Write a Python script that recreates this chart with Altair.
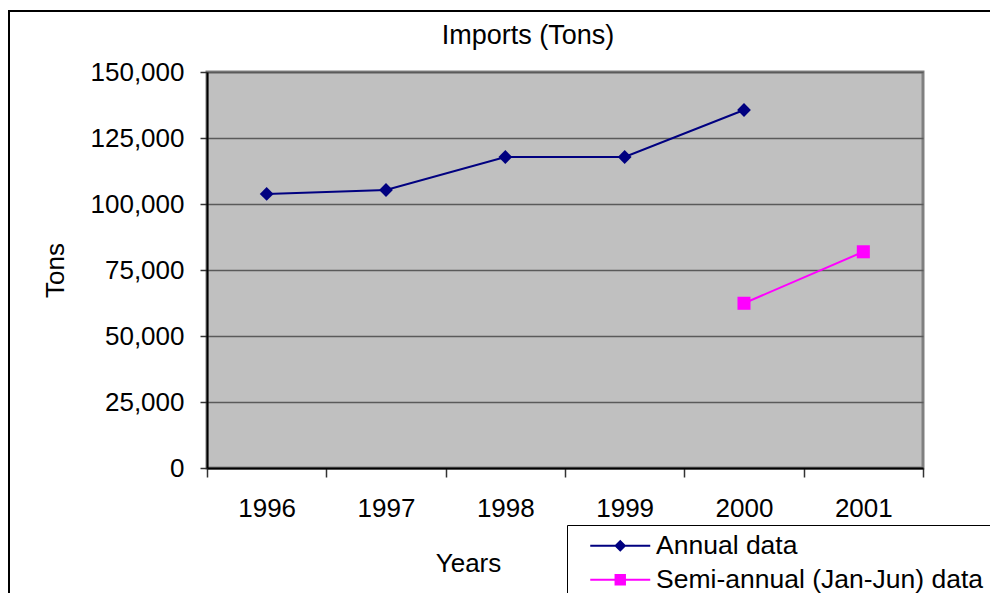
import altair as alt
import pandas as pd

years = ["1996", "1997", "1998", "1999", "2000", "2001"]
annual_years = ["1996", "1997", "1998", "1999", "2000"]
annual_values = [103800, 105300, 117800, 117800, 135600]
semi_years = ["2000", "2001"]
semi_values = [62400, 81900]
series_names = ["Annual data", "Semi-annual (Jan-Jun) data"]
series_colors = ["#000080", "#FF00FF"]
series_shapes = ["diamond", "square"]
series_sizes = [190, 170]
y_ticks = [0, 25000, 50000, 75000, 100000, 125000, 150000]

rows = [{"year": y, "value": v, "series": series_names[0]} for y, v in zip(annual_years, annual_values)]
rows += [{"year": y, "value": v, "series": series_names[1]} for y, v in zip(semi_years, semi_values)]
df = pd.DataFrame(rows)

FONT = "Liberation Sans"

x_enc = alt.X(
    "year:N",
    scale=alt.Scale(type="band", domain=years, paddingInner=0, paddingOuter=0),
    axis=alt.Axis(
        title="Years", tickBand="extent", labelAngle=0, labelFontSize=26, labelFont=FONT,
        labelColor="black", labelPadding=18, tickSize=9, tickColor="#333333", tickWidth=1.5,
        domainColor="black", domainWidth=2, titleFontSize=26, titleFont=FONT,
        titleFontWeight="normal", titleColor="black", titleX=261, titleY=95,
        titleBaseline="middle", titleAlign="center", grid=False,
    ),
)
y_enc = alt.Y(
    "value:Q",
    scale=alt.Scale(domain=[0, 150000], nice=False, zero=True),
    axis=alt.Axis(
        title="Tons", values=y_ticks, format=",d", labelFontSize=26, labelFont=FONT,
        labelColor="black", tickSize=7, labelPadding=16, tickColor="#333333", tickWidth=1.5,
        grid=True, gridColor="#5a5a5a", gridWidth=1.5, domainColor="black", domainWidth=2,
        titleFontSize=26, titleFont=FONT, titleFontWeight="normal", titleColor="black",
        titleX=-152, titleY=198, titleAngle=270, titleBaseline="middle", titleAlign="center",
    ),
)

# legend symbols: a thin bar (the line) plus the marker, all filled
bar = "M-5,-0.16L5,-0.16L5,0.16L-5,0.16Z"
legend_path_annual = bar + "M0,-1L1,0L0,1L-1,0Z"
legend_path_semi = bar + "M-0.95,-0.95L0.95,-0.95L0.95,0.95L-0.95,0.95Z"

legend = alt.Legend(
    title=None, orient="none", legendX=360, legendY=453, padding=7.5, rowPadding=7,
    symbolSize=144, symbolOffset=32.5, labelOffset=22.5, labelFontSize=26.5, labelFont=FONT,
    labelColor="black", labelLimit=0, strokeColor="black", fillColor="white",
    symbolStrokeWidth=0,
)

frame_top = alt.Chart(pd.DataFrame({"a": [0]})).mark_rule(stroke="black", strokeWidth=2).encode(
    x=alt.value(-199), x2=alt.value(900), y=alt.value(-61)
)
frame_left = alt.Chart(pd.DataFrame({"a": [0]})).mark_rule(stroke="black", strokeWidth=2).encode(
    x=alt.value(-198), y=alt.value(-62), y2=alt.value(700)
)

series_layers = []
for name, col, shp, sz in zip(series_names, series_colors, series_shapes, series_sizes):
    base = alt.Chart(df).transform_filter(alt.datum.series == name)
    series_layers.append(base.mark_line(strokeWidth=2, color=col).encode(x=x_enc, y=y_enc))
    series_layers.append(
        base.mark_point(filled=True, opacity=1, size=sz, shape=shp, color=col).encode(x=x_enc, y=y_enc)
    )

legend_layer = alt.Chart(df).transform_filter("false").mark_point(filled=True, opacity=1).encode(
    x=x_enc, y=y_enc,
    color=alt.Color("series:N", scale=alt.Scale(domain=series_names, range=series_colors), legend=legend),
    shape=alt.Shape("series:N", scale=alt.Scale(domain=series_names, range=[legend_path_annual, legend_path_semi]), legend=legend),
)

chart = alt.layer(frame_top, frame_left, *series_layers, legend_layer).properties(
    width=716, height=396,
    padding={"left": 199, "top": 64, "right": 67, "bottom": 125},
    autosize=alt.AutoSizeParams(type="none"),
    background="white",
    title=alt.TitleParams(
        "Imports (Tons)", fontSize=27, font=FONT, fontWeight="normal", color="black",
        anchor="middle", dx=-37, baseline="alphabetic", offset=0, dy=62,
    ),
).configure_view(
    fill="#C0C0C0", stroke="#808080", strokeWidth=3
)

chart.save("out.html", embed_options={"renderer": "svg", "actions": False})
